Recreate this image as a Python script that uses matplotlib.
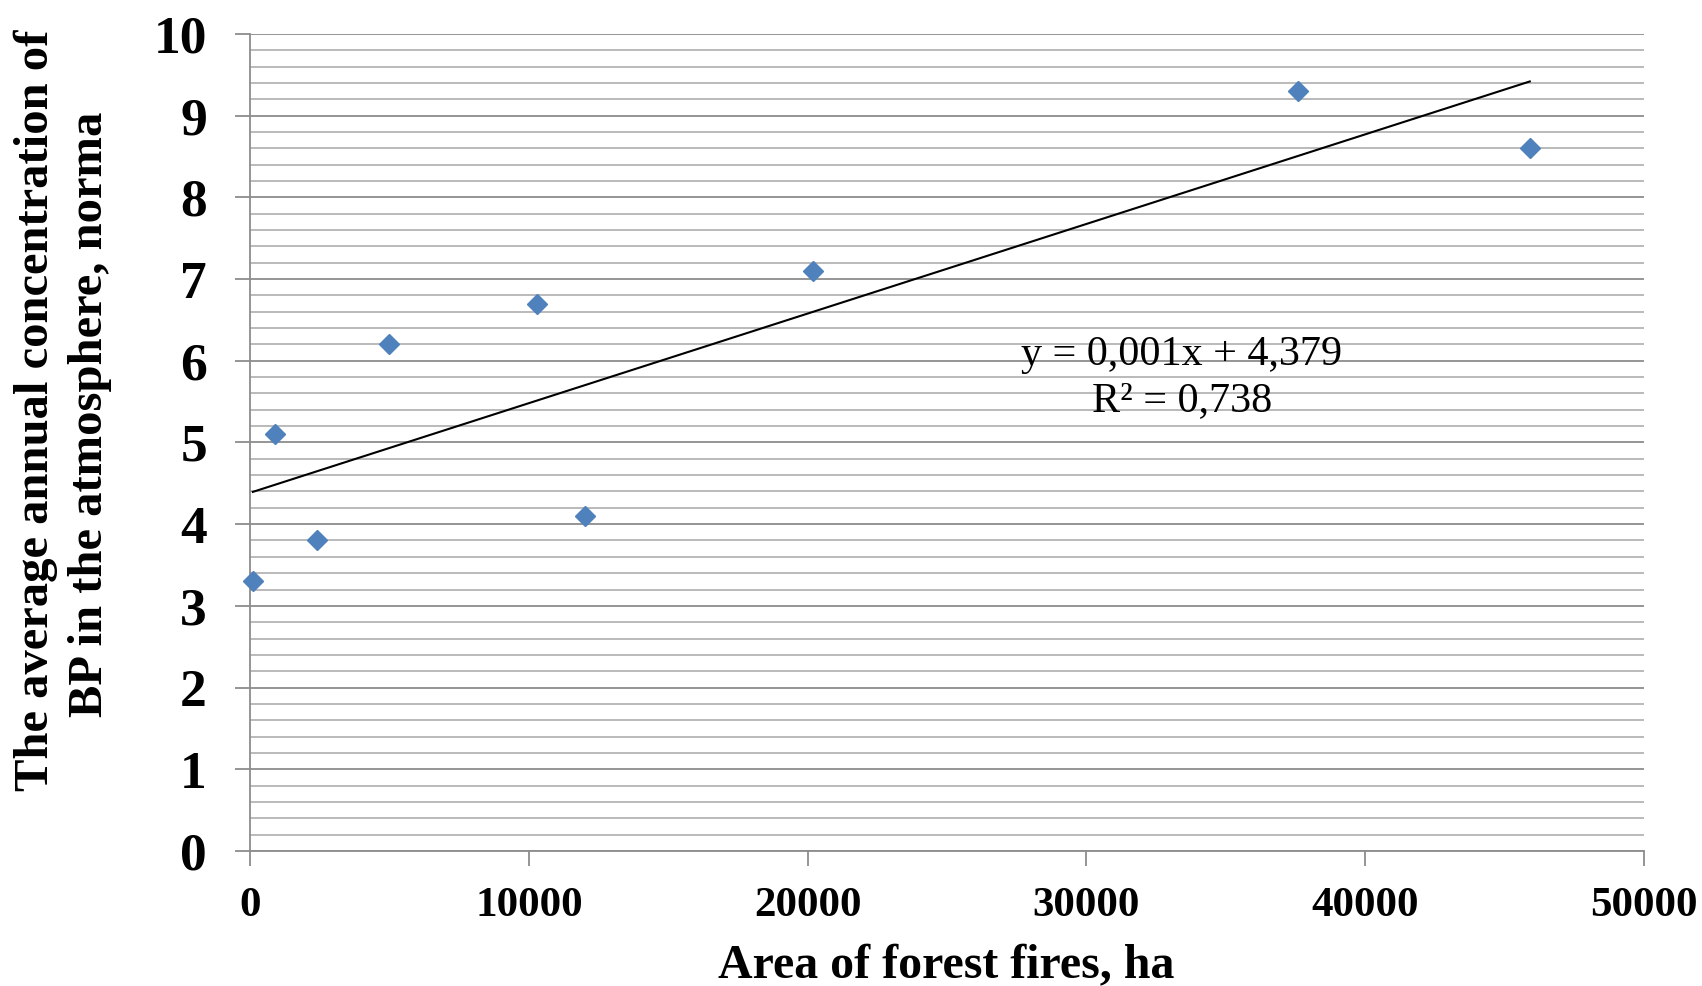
import numpy as np
import matplotlib
matplotlib.use("Agg")
import matplotlib.pyplot as plt
from matplotlib.ticker import MultipleLocator

# ------------------
# Data
# ------------------
fire_area = [100, 900, 2400, 5000, 10300, 12000, 20200, 37600, 45900]
bp_conc = [3.3, 5.1, 3.8, 6.2, 6.7, 4.1, 7.1, 9.3, 8.6]

x_ticks = [0, 10000, 20000, 30000, 40000, 50000]
y_ticks = list(range(0, 11))

eq_lines = ["y = 0,001x + 4,379", "R\u00b2 = 0,738"]
x_title = "Area of forest fires, ha"
y_title = ["The average annual concentration of", "BP in the atmosphere, norma"]

# ------------------
# Style
# ------------------
plt.rcParams['font.family'] = ['Liberation Serif', 'DejaVu Serif']
BLUE = "#4F81BD"
MAJOR = "#8C8C8C"
MINOR = "#B4B4B4"

fig = plt.figure(figsize=(17.02, 9.86), dpi=100)
ax = fig.add_axes([0.1469, 0.137, 0.966 - 0.1469, 0.9655 - 0.137])

ax.set_xlim(0, 50000)
ax.set_ylim(0, 10)
ax.set_xticks(x_ticks)
ax.set_yticks(y_ticks)
ax.yaxis.set_minor_locator(MultipleLocator(0.2))

ax.grid(axis='y', which='major', color=MAJOR, lw=1.3, zorder=0)
ax.grid(axis='y', which='minor', color=MINOR, lw=1.3, zorder=0)
ax.set_axisbelow(True)

for s in ['top', 'right']:
    ax.spines[s].set_visible(False)
for s in ['left', 'bottom']:
    ax.spines[s].set_color(MAJOR)
    ax.spines[s].set_linewidth(1.3)

ax.tick_params(axis='both', which='major', direction='out', color=MAJOR,
               width=1.3, length=11)
ax.tick_params(axis='y', which='minor', length=0)
ax.tick_params(axis='x', labelsize=31, pad=15)
ax.tick_params(axis='y', labelsize=38.5, pad=20)
for lab in ax.get_xticklabels() + ax.get_yticklabels():
    lab.set_fontweight('bold')

# points
ax.plot(fire_area, bp_conc, linestyle='none', marker='D', markersize=10,
        color=BLUE, markeredgecolor=BLUE, zorder=3, clip_on=False)

# linear trendline
coef = np.polyfit(fire_area, bp_conc, 1)
tx = np.array([min(fire_area), max(fire_area)])
ax.plot(tx, np.polyval(coef, tx), color='black', lw=1.5, zorder=2)

# trendline label
ax.text(33420, 5.95, eq_lines[0], fontsize=30.3, ha='center', va='baseline')
ax.text(33420, 5.39, eq_lines[1], fontsize=30.3, ha='center', va='baseline')

# axis titles
fig.text(0.5561, 0.0081, x_title, fontsize=34.5, fontweight='bold',
         ha='center', va='baseline')
fig.text(0.0282, 0.5837, y_title[0], fontsize=35, fontweight='bold',
         rotation=90, rotation_mode='anchor', ha='center', va='baseline')
fig.text(0.0599, 0.5801, y_title[1], fontsize=35, fontweight='bold',
         rotation=90, rotation_mode='anchor', ha='center', va='baseline')

fig.savefig("out.png", dpi=100)
